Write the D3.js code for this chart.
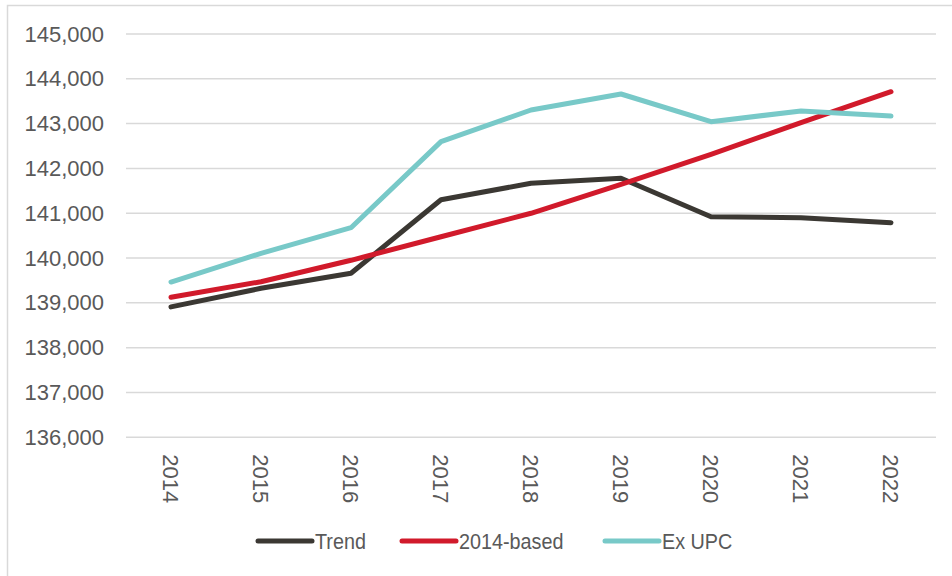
<!DOCTYPE html>
<html>
<head>
<meta charset="utf-8">
<script src="https://cdn.jsdelivr.net/npm/d3@7"></script>
<style>
  body { margin: 0; background: #fff; }
  svg { display: block; }
</style>
</head>
<body>
<div id="chart"></div>
<script>
// values
const years = ['2014', '2015', '2016', '2017', '2018', '2019', '2020', '2021', '2022'];
const trend = [138910, 139325, 139660, 141300, 141670, 141780, 140923, 140900, 140789];
const based2014 = [139124, 139472, 139950, 140476, 140999, 141646, 142315, 143020, 143712];
const exUpc = [139465, 140106, 140677, 142597, 143304, 143661, 143043, 143282, 143170];
const yTicks = [136000, 137000, 138000, 139000, 140000, 141000, 142000, 143000, 144000, 145000];

const series = [
  { name: 'Trend', values: trend, color: '#3b3833' },
  { name: '2014-based', values: based2014, color: '#d11a2b' },
  { name: 'Ex UPC', values: exUpc, color: '#78c9c8' }
];

const W = 952, H = 576;
const svg = d3.select('#chart').append('svg')
  .attr('width', W).attr('height', H);

// outer frame
svg.append('rect')
  .attr('x', 7.5).attr('y', 5.5)
  .attr('width', W + 10).attr('height', H + 10)
  .attr('fill', 'none').attr('stroke', '#d9d9d9').attr('stroke-width', 1.5);

const x = d3.scaleBand().domain(years).range([126, 936]);
const y = d3.scaleLinear().domain([136000, 145000]).range([437.3, 34]);

// gridlines
svg.append('g').selectAll('line')
  .data(yTicks)
  .join('line')
  .attr('x1', 126).attr('x2', 936)
  .attr('y1', d => y(d)).attr('y2', d => y(d))
  .attr('stroke', '#d9d9d9').attr('stroke-width', 1.5);

// y axis labels
const yAxis = svg.append('g')
  .attr('transform', 'translate(104,0)')
  .call(d3.axisLeft(y).tickValues(yTicks).tickSize(0).tickPadding(0).tickFormat(d3.format(',')));
yAxis.select('.domain').remove();
yAxis.selectAll('text')
  .attr('fill', '#595959')
  .style('font-family', '"Liberation Sans", Arial, sans-serif')
  .style('font-size', '22px');

// x axis labels, rotated
const xAxis = svg.append('g')
  .attr('transform', 'translate(0,437.3)')
  .call(d3.axisBottom(x).tickSize(0).tickPadding(0));
xAxis.select('.domain').remove();
xAxis.selectAll('text')
  .attr('fill', '#595959')
  .style('font-family', '"Liberation Sans", Arial, sans-serif')
  .style('font-size', '22px')
  .attr('text-anchor', 'start')
  .attr('dy', '0.35em')
  .attr('transform', 'translate(0,17) rotate(90)')
  .attr('y', 0).attr('x', 0);

// lines
const line = d3.line()
  .x((d, i) => x(years[i]) + x.bandwidth() / 2)
  .y(d => y(d));

svg.append('g').selectAll('path')
  .data(series)
  .join('path')
  .attr('d', d => line(d.values))
  .attr('fill', 'none')
  .attr('stroke', d => d.color)
  .attr('stroke-width', 5)
  .attr('stroke-linecap', 'round')
  .attr('stroke-linejoin', 'round');

// legend
const legendX = [258, 402, 605];
const legend = svg.append('g').selectAll('g')
  .data(series)
  .join('g')
  .attr('transform', (d, i) => `translate(${legendX[i]},541)`);
legend.append('line')
  .attr('x1', 0).attr('x2', 54)
  .attr('stroke', d => d.color)
  .attr('stroke-width', 5)
  .attr('stroke-linecap', 'round');
legend.append('text')
  .attr('dy', '0.36em')
  .attr('transform', 'translate(57,0) scale(0.9,1)')
  .attr('fill', '#595959')
  .style('font-family', '"Liberation Sans", Arial, sans-serif')
  .style('font-size', '22px')
  .text(d => d.name);
</script>
</body>
</html>
